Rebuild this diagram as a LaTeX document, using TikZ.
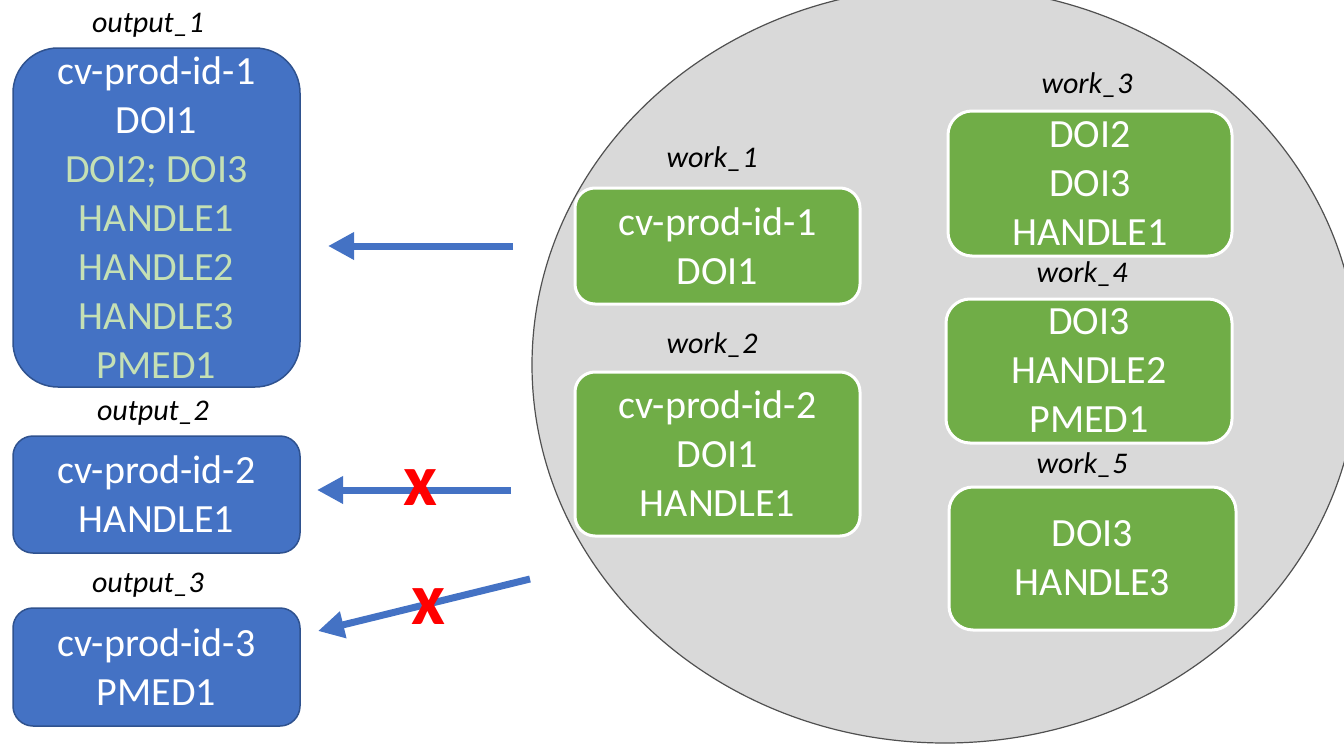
\documentclass[tikz,border=0pt]{standalone}
\usepackage{fontspec}
\setmainfont{Carlito}
\usetikzlibrary{arrows.meta,shapes.geometric}
\definecolor{boxblue}{HTML}{4472C4}
\definecolor{boxblueedge}{HTML}{2F528F}
\definecolor{boxgreen}{HTML}{70AD47}
\definecolor{palegreen}{HTML}{C5E0B4}
\definecolor{poolgray}{HTML}{D9D9D9}
\definecolor{pooledge}{HTML}{505050}
\definecolor{xred}{HTML}{FF0000}
\tikzset{
  outbox/.style={draw=boxblueedge, line width=1.5pt, fill=boxblue, text=white,
    align=center, inner sep=0pt, minimum width=287pt,
    font=\fontsize{40}{49}\selectfont},
  workbox/.style={draw=white, line width=3pt, fill=boxgreen, text=white,
    align=center, inner sep=0pt, rounded corners=20pt,
    font=\fontsize{40}{49}\selectfont},
  lbl/.style={anchor=base, inner sep=0pt, font=\fontsize{30}{36}\selectfont\itshape},
  flow/.style={draw=boxblue, line width=7pt, -{Triangle[length=26pt,width=26pt]}},
  cross/.style={inner sep=0pt, text=xred, font=\fontsize{74}{80}\selectfont\bfseries},
}
\begin{document}
\begin{tikzpicture}[x=1pt,y=-1pt]
\useasboundingbox (0,0) rectangle (1344,744);
% pool
\node[ellipse, draw=pooledge, line width=1.2pt, fill=poolgray, inner sep=0pt,
  minimum width=826pt, minimum height=756pt] (pool) at (945,365) {};
% outputs
\node[lbl] (l1) at (148,32) {output\_1};
\node[outbox, minimum height=339pt, rounded corners=45pt] (out1) at (156.5,217.5)
  {cv-prod-id-1\\DOI1\\\textcolor{palegreen}{DOI2; DOI3}\\\textcolor{palegreen}{HANDLE1}\\
   \textcolor{palegreen}{HANDLE2}\\\textcolor{palegreen}{HANDLE3}\\\textcolor{palegreen}{PMED1}};
\node[lbl] (l2) at (153,420) {output\_2};
\node[outbox, minimum height=117pt, rounded corners=20pt] (out2) at (156.5,494.5)
  {cv-prod-id-2\\HANDLE1};
\node[lbl] (l3) at (148,592) {output\_3};
\node[outbox, minimum height=118pt, rounded corners=20pt] (out3) at (156.5,667)
  {cv-prod-id-3\\PMED1};
% works
\node[lbl] (lw1) at (712,167) {work\_1};
\node[workbox, minimum width=285pt, minimum height=116pt] (w1) at (717.5,246)
  {cv-prod-id-1\\DOI1};
\node[lbl] (lw2) at (712,353) {work\_2};
\node[workbox, minimum width=285pt, minimum height=164pt] (w2) at (717.5,454)
  {cv-prod-id-2\\DOI1\\HANDLE1};
\node[lbl] (lw3) at (1087,93) {work\_3};
\node[workbox, minimum width=284pt, minimum height=145pt, rounded corners=24pt] (w3) at (1090,183.5)
  {DOI2\\DOI3\\HANDLE1};
\node[lbl] (lw4) at (1082,282) {work\_4};
\node[workbox, minimum width=286pt, minimum height=144pt, rounded corners=24pt] (w4) at (1089,371)
  {DOI3\\HANDLE2\\PMED1};
\node[lbl] (lw5) at (1082,473) {work\_5};
\node[workbox, minimum width=287pt, minimum height=143pt, rounded corners=24pt] (w5) at (1092.5,558.5)
  {DOI3\\HANDLE3};
% arrows
\coordinate (a1s) at (513,246);
\coordinate (a1e) at (328,246);
\coordinate (a2s) at (511,490);
\coordinate (a2e) at (317,490);
\coordinate (a3s) at (530,579);
\coordinate (a3e) at (318,631);
\draw[flow] (a1s) -- (a1e);
\draw[flow] (a2s) -- (a2e);
\draw[flow] (a3s) -- (a3e);
\node[cross] (x1) at (420,488) {x};
\node[cross] (x2) at (428,607) {x};
\end{tikzpicture}
\end{document}
